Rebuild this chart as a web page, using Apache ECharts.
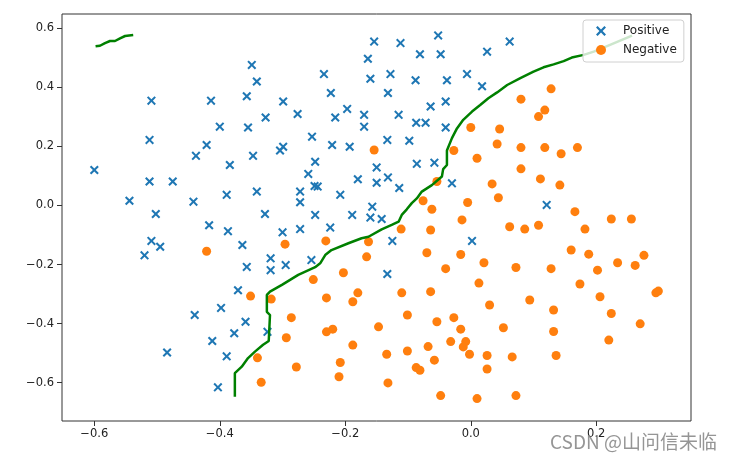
<!DOCTYPE html>
<html>
<head>
<meta charset="utf-8">
<script src="https://cdn.jsdelivr.net/npm/echarts@6.0.0/dist/echarts.min.js"></script>
<style>
html,body{margin:0;padding:0;background:#fff;}
#chart{width:736px;height:461px;}
</style>
</head>
<body>
<div id="chart"></div>
<script>
// ---- data ----
const positiveX = [-0.349,-0.341,-0.509,-0.414,-0.357,-0.299,-0.400,-0.355,-0.327,-0.276,-0.512,-0.421,-0.438,-0.347,-0.299,-0.304,
  -0.052,-0.154,-0.112,0.062,-0.164,-0.081,-0.048,0.026,-0.234,-0.160,-0.128,-0.088,-0.038,-0.006,-0.223,-0.132,0.018,-0.197,-0.216,-0.170,-0.170,-0.115,-0.064,-0.040,-0.087,-0.072,-0.040,-0.253,-0.221,-0.193,-0.133,-0.098,
  -0.384,-0.600,-0.512,-0.475,-0.341,-0.544,-0.442,-0.389,-0.328,-0.502,-0.417,-0.387,-0.509,-0.495,-0.520,-0.364,-0.357,
  -0.248,-0.259,-0.150,-0.086,-0.058,-0.180,-0.150,-0.132,-0.114,-0.249,-0.244,-0.272,-0.272,-0.208,-0.248,-0.189,-0.157,-0.160,-0.142,-0.030,-0.300,-0.272,-0.224,-0.125,0.002,-0.319,-0.319,-0.295,-0.254,-0.133,
  0.121,-0.371,-0.398,-0.440,-0.359,-0.377,-0.412,-0.484,-0.389,-0.403,-0.324];
const positiveY = [0.476,0.420,0.355,0.355,0.370,0.352,0.267,0.264,0.298,0.310,0.222,0.205,0.168,0.168,0.199,0.186,
  0.576,0.555,0.550,0.555,0.497,0.512,0.512,0.521,0.445,0.429,0.445,0.424,0.424,0.445,0.381,0.381,0.404,0.327,0.298,0.307,0.267,0.307,0.335,0.352,0.280,0.280,0.264,0.233,0.205,0.199,0.222,0.219,
  0.137,0.120,0.081,0.081,0.047,0.016,0.013,0.036,-0.029,-0.029,-0.067,-0.087,-0.120,-0.140,-0.169,-0.134,-0.208,
  0.148,0.107,0.129,0.141,0.145,0.089,0.077,0.095,0.059,0.066,0.064,0.047,0.011,0.036,-0.032,-0.032,-0.004,-0.041,-0.046,0.075,-0.091,-0.080,-0.075,-0.120,-0.120,-0.179,-0.219,-0.202,-0.185,-0.232,
  0.002,-0.287,-0.347,-0.371,-0.394,-0.433,-0.459,-0.498,-0.511,-0.616,-0.428];

const negativeX = [-0.154,0.000,0.046,0.080,0.108,0.118,0.128,0.042,0.080,-0.027,0.118,0.144,0.170,
  -0.421,
  0.010,-0.054,-0.076,-0.062,-0.005,-0.014,-0.296,-0.231,-0.163,-0.111,-0.064,-0.166,-0.070,-0.016,-0.203,-0.040,-0.251,0.013,
  0.080,0.111,0.142,0.034,0.044,0.166,0.224,0.256,0.062,0.086,0.108,0.182,0.160,0.188,0.276,0.021,0.072,0.128,0.202,0.234,0.262,0.174,
  -0.351,-0.340,-0.334,
  -0.318,-0.230,-0.180,-0.188,-0.110,-0.064,-0.286,-0.101,-0.054,-0.027,-0.016,-0.147,-0.230,-0.220,-0.294,-0.188,-0.134,-0.101,-0.068,-0.032,-0.008,-0.012,-0.002,-0.058,-0.087,-0.081,-0.208,-0.278,-0.210,-0.132,-0.048,0.010,
  0.206,0.295,0.299,0.030,0.094,0.132,0.224,0.270,0.052,0.132,0.220,0.026,0.066,0.136,0.026,0.072];
const negativeY = [0.188,0.264,0.259,0.360,0.301,0.323,0.395,0.208,0.196,0.186,0.196,0.175,0.196,
  -0.155,
  0.160,0.081,0.016,-0.013,0.010,-0.049,-0.131,-0.120,-0.123,-0.080,-0.083,-0.174,-0.160,-0.166,-0.228,-0.214,-0.251,-0.263,
  0.124,0.090,0.069,0.073,0.026,-0.021,-0.046,-0.046,-0.072,-0.080,-0.067,-0.080,-0.151,-0.165,-0.169,-0.194,-0.210,-0.214,-0.219,-0.194,-0.203,-0.266,
  -0.307,-0.516,-0.599,
  -0.317,-0.313,-0.296,-0.326,-0.296,-0.292,-0.380,-0.371,-0.394,-0.380,-0.419,-0.411,-0.428,-0.419,-0.448,-0.473,-0.504,-0.493,-0.478,-0.461,-0.461,-0.479,-0.504,-0.524,-0.549,-0.558,-0.532,-0.547,-0.580,-0.601,-0.644,-0.654,
  -0.309,-0.296,-0.290,-0.337,-0.320,-0.354,-0.366,-0.401,-0.414,-0.427,-0.456,-0.508,-0.513,-0.508,-0.554,-0.644];

// decision boundary (main curve) and small top-left piece
const boundaryX = [-0.376,-0.376,-0.365,-0.355,-0.344,-0.331,-0.322,-0.320,-0.325,-0.325,-0.320,-0.301,-0.275,-0.248,-0.240,-0.232,-0.222,-0.195,-0.174,-0.163,-0.142,-0.126,-0.115,-0.110,-0.102,-0.094,-0.086,-0.078,-0.062,-0.046,-0.044,-0.038,-0.038,-0.030,-0.022,-0.012,0.002,0.015,0.028,0.042,0.058,0.079,0.100,0.116,0.132,0.148,0.161,0.180,0.196,0.222,0.257];
const boundaryY = [-0.648,-0.568,-0.546,-0.517,-0.495,-0.472,-0.459,-0.371,-0.360,-0.303,-0.292,-0.269,-0.235,-0.209,-0.196,-0.168,-0.151,-0.128,-0.111,-0.106,-0.081,-0.066,-0.055,-0.032,-0.013,0.008,0.024,0.047,0.069,0.098,0.123,0.137,0.186,0.228,0.261,0.290,0.318,0.340,0.363,0.383,0.408,0.431,0.453,0.468,0.478,0.489,0.501,0.510,0.521,0.544,0.575];
const islandX = [-0.598,-0.591,-0.583,-0.575,-0.567,-0.559,-0.551,-0.538];
const islandY = [0.539,0.541,0.550,0.557,0.557,0.566,0.574,0.577];

const xTicks = [-0.6,-0.4,-0.2,0.0,0.2];
const yTicks = [-0.6,-0.4,-0.2,0.0,0.2,0.4,0.6];
const legendNames = ['Positive','Negative'];
const watermark = 'CSDN @山问信未临';

// ---- build ----
const zip = (a,b) => a.map((v,i) => [v,b[i]]);
const fmt = v => v.toFixed(1).replace('-', '\u2212');
const xMarker = 'path://M1.6,0 L5,3.4 L8.4,0 L10,1.6 L6.6,5 L10,8.4 L8.4,10 L5,6.6 L1.6,10 L0,8.4 L3.4,5 L0,1.6 Z';
const labelFont = {fontFamily:'DejaVu Sans', fontSize:11.5, color:'#222'};

const chart = echarts.init(document.getElementById('chart'), null, {renderer:'canvas'});
chart.setOption({
  animation:false,
  backgroundColor:'#fff',
  grid:{left:62, right:45, top:14, bottom:40, show:true, borderColor:'#333', borderWidth:1, backgroundColor:'transparent'},
  xAxis:{
    type:'value', min:-0.6515, max:0.351,
    axisLine:{show:false, onZero:false},
    splitLine:{show:false},
    axisTick:{show:true, inside:false, length:5, lineStyle:{color:'#333'}, customValues:xTicks},
    axisLabel:Object.assign({margin:7, formatter:fmt, customValues:xTicks}, labelFont)
  },
  yAxis:{
    type:'value', min:-0.730, max:0.6485,
    axisLine:{show:false, onZero:false},
    splitLine:{show:false},
    axisTick:{show:true, inside:false, length:5, lineStyle:{color:'#333'}, customValues:yTicks},
    axisLabel:Object.assign({margin:8, formatter:fmt, customValues:yTicks}, labelFont)
  },
  legend:{
    data:[{name:legendNames[0], icon:xMarker},{name:legendNames[1], icon:'circle'}],
    orient:'vertical', left:583, top:20,
    itemWidth:10, itemHeight:10, itemGap:5,
    padding:[4,7,5,13],
    backgroundColor:'rgba(255,255,255,0.8)',
    borderColor:'#d0d0d0', borderWidth:1, borderRadius:3,
    textStyle:{fontFamily:'DejaVu Sans', fontSize:12, color:'#222', padding:[0,0,0,12], lineHeight:14},
    selectedMode:false
  },
  graphic:[{
    type:'text', left:550, top:432, z:100,
    style:{text:watermark, fontSize:19, fontFamily:'Noto Sans CJK SC', fill:'rgba(130,130,130,0.85)'}
  }],
  series:[
    {name:legendNames[0], type:'scatter', data:zip(positiveX,positiveY), symbol:xMarker, symbolSize:9,
      itemStyle:{color:'#1f77b4', opacity:1}, z:2},
    {name:legendNames[1], type:'scatter', data:zip(negativeX,negativeY), symbol:'circle', symbolSize:9,
      itemStyle:{color:'#ff7f0e', opacity:1}, z:2},
    {name:'boundary', type:'line', data:zip(boundaryX,boundaryY), showSymbol:false, symbol:'none',
      lineStyle:{color:'#008000', width:2.5}, z:3},
    {name:'boundary2', type:'line', data:zip(islandX,islandY), showSymbol:false, symbol:'none',
      lineStyle:{color:'#008000', width:2.5}, z:3}
  ]
});
</script>
</body>
</html>
